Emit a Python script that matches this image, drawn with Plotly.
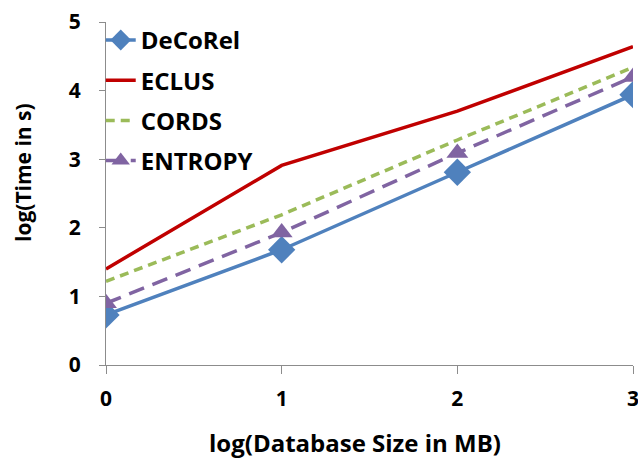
import plotly.graph_objects as go

x_vals = [0, 1, 2, 3]
decorel = [0.73, 1.68, 2.81, 3.94]
eclus = [1.40, 2.91, 3.70, 4.64]
cords = [1.22, 2.19, 3.28, 4.34]
entropy = [0.90, 1.93, 3.09, 4.20]

x_ticks = [0, 1, 2, 3]
y_ticks = [0, 1, 2, 3, 4, 5]

x_title = "log(Database Size in MB)"
y_title = "log(Time in s)"

FONT = "Open Sans"

fig = go.Figure()
fig.add_trace(go.Scatter(x=x_vals, y=decorel, name="DeCoRel", mode="lines+markers",
                         line=dict(color="#4F81BD", width=3.5),
                         marker=dict(symbol="diamond", size=21, color="#4F81BD"),
                         legendgroup="a"))
fig.add_trace(go.Scatter(x=x_vals, y=eclus, name="ECLUS", mode="lines",
                         line=dict(color="#C00000", width=3.5),
                         legendgroup="b"))
fig.add_trace(go.Scatter(x=x_vals, y=cords, name="CORDS", mode="lines",
                         line=dict(color="#9BBB59", width=3.5, dash="9px,6px"),
                         legendgroup="c"))
fig.add_trace(go.Scatter(x=x_vals, y=entropy, name="ENTROPY", mode="lines+markers",
                         line=dict(color="#8064A2", width=3.5, dash="16px,9px"),
                         marker=dict(symbol="triangle-up", size=19, color="#8064A2"),
                         legendgroup="d"))

fig.update_layout(
    width=638, height=462,
    margin=dict(l=106, r=5, t=22, b=97),
    plot_bgcolor="white", paper_bgcolor="white",
    font=dict(family=FONT, color="black"),
    showlegend=True,
    legend=dict(x=-0.01, y=1.012, xanchor="left", yanchor="top",
                font=dict(family=FONT, size=24, color="black", weight="bold"),
                bgcolor="rgba(0,0,0,0)", traceorder="grouped", tracegroupgap=6,
                itemwidth=30),
    xaxis=dict(range=[0, 3], tickvals=x_ticks, showgrid=False, zeroline=False,
               showline=True, linecolor="#8C8C8C", linewidth=1,
               ticks="outside", ticklen=8, tickcolor="#8C8C8C",
               tickfont=dict(family=FONT, size=21, weight="bold"),
               ticklabelstandoff=7, ticklabeloverflow="allow", automargin=False),
    yaxis=dict(range=[0, 5], tickvals=y_ticks, showgrid=False, zeroline=False,
               showline=True, linecolor="#8C8C8C", linewidth=1,
               ticks="outside", ticklen=6, tickcolor="#8C8C8C",
               tickfont=dict(family=FONT, size=21, weight="bold"),
               ticklabelstandoff=14, automargin=False),
    annotations=[
        dict(text=x_title, xref="paper", yref="paper", x=0.4725, y=-0.227,
             xanchor="center", yanchor="middle", showarrow=False,
             font=dict(family=FONT, size=24, weight="bold", color="black")),
        dict(text=y_title, xref="paper", yref="paper", x=-0.1575, y=0.5627,
             xanchor="center", yanchor="middle", showarrow=False, textangle=-90,
             font=dict(family=FONT, size=21, weight="bold", color="black")),
    ],
)

fig.write_html("out.html")
